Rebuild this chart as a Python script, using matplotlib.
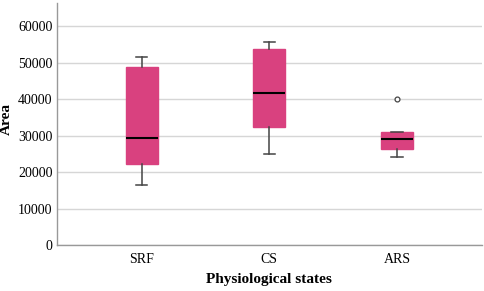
import matplotlib
matplotlib.use("Agg")
import matplotlib.pyplot as plt

# box statistics
states = ["SRF", "CS", "ARS"]
whisker_low = [16600, 25100, 24250]
q1 = [22300, 32400, 26450]
median = [29400, 41700, 29000]
q3 = [48900, 53650, 31050]
whisker_high = [51500, 55600, 31100]
outliers = [[], [], [40100]]

BOX_COLOR = "#D9417F"

stats = []
for i, name in enumerate(states):
    stats.append({
        "label": name,
        "whislo": whisker_low[i],
        "q1": q1[i],
        "med": median[i],
        "q3": q3[i],
        "whishi": whisker_high[i],
        "fliers": outliers[i],
    })

plt.rcParams["font.family"] = "Liberation Serif"

fig = plt.figure(figsize=(4.84, 2.91), dpi=100)
ax = fig.add_axes([0.117, 0.158, 0.879, 0.833])

ax.bxp(stats, positions=[1, 2, 3], widths=0.25, patch_artist=True,
       boxprops=dict(facecolor=BOX_COLOR, edgecolor=BOX_COLOR, linewidth=1),
       medianprops=dict(color="black", linewidth=1.5),
       whiskerprops=dict(color="#444444", linewidth=1.1),
       capprops=dict(color="#444444", linewidth=1.1),
       capwidths=0.09,
       flierprops=dict(marker="o", markersize=3.5, markerfacecolor="white",
                       markeredgecolor="#444444", markeredgewidth=0.9))

ax.set_xlim(1 - 0.667, 3 + 0.667)
ax.set_ylim(0, 66500)
ax.set_yticks(range(0, 60001, 10000))
ax.yaxis.grid(True, color="#d6d6d6", linewidth=1)
ax.set_axisbelow(True)

for side in ["top", "right"]:
    ax.spines[side].set_visible(False)
for side in ["left", "bottom"]:
    ax.spines[side].set_color("#999999")
    ax.spines[side].set_linewidth(1)

ax.tick_params(axis="both", length=0, labelsize=10, colors="black")
ax.tick_params(axis="x", pad=6)
ax.tick_params(axis="y", pad=3)

ax.set_xlabel("Physiological states", fontsize=11, fontweight="bold", labelpad=5)
ax.set_ylabel("Area", fontsize=11, fontweight="bold")
ax.yaxis.set_label_coords(-0.103, 0.52)

fig.savefig("out.png", dpi=100)
plt.close(fig)
